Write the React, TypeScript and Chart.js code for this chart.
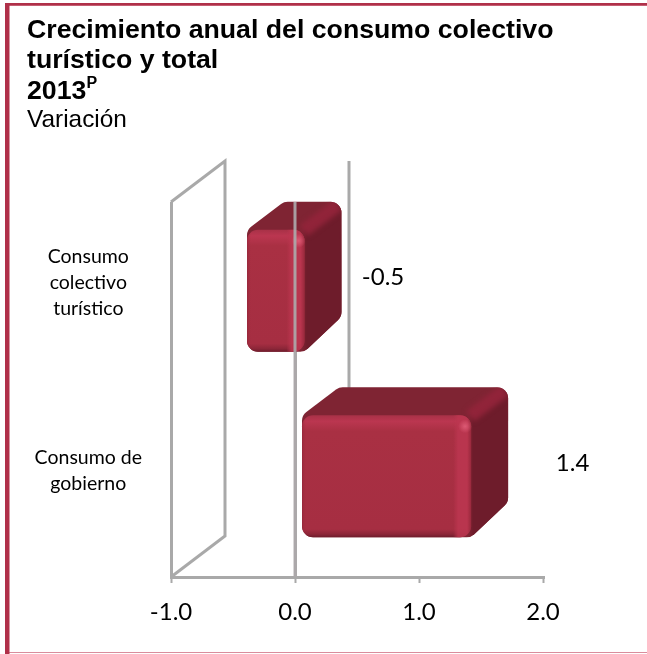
import { useEffect, useRef } from "react";
import { Chart, registerables } from "chart.js";

Chart.register(...registerables);

const categories = [["Consumo", "colectivo", "turístico"], ["Consumo de", "gobierno"]];
const values = [-0.5, 1.4];
const valueLabels = ["-0.5", "1.4"];
const xTicks = { min: -1, max: 2, step: 1 };

const titleLines = ["Crecimiento anual del consumo colectivo", "turístico y total"];
const titleYear = "2013";
const titleSup = "P";
const subtitle = "Variación";

const GRID = "#a9a9a9";
const LABEL_FONT = "Lato, Carlito, sans-serif";
const WALL = { dx: 54, dy: 41 };
const BOX = { dx: 37, dy: 28, dyBottom: 35, r: 11, trim: 3 };
const rowShift = [{ x: 14, y: -5 }, { x: 5.5, y: -7 }];
const labelAnchor = [{ x: 150, y: -18 }, { x: 104, y: -20 }];

function roundedPoly(ctx: CanvasRenderingContext2D, pts: number[][], r: number) {
  const n = pts.length;
  const a = pts[n - 1], b = pts[0];
  ctx.beginPath();
  ctx.moveTo((a[0] + b[0]) / 2, (a[1] + b[1]) / 2);
  for (let i = 0; i < n; i++) {
    const p = pts[i], q = pts[(i + 1) % n];
    ctx.arcTo(p[0], p[1], (p[0] + q[0]) / 2, (p[1] + q[1]) / 2, r);
  }
  ctx.closePath();
}

function drawBox(ctx: CanvasRenderingContext2D, l: number, r: number, t: number, b: number) {
  const { dx, dy, dyBottom, r: rad } = BOX;
  const outline = [[l, t], [l + dx, t - dy], [r + dx, t - dy], [r + dx, b - dyBottom], [r, b], [l, b]];
  ctx.save();
  (ctx as any).filter = "blur(0.6px)";
  roundedPoly(ctx, outline, rad);
  ctx.fillStyle = "#7f2433";
  ctx.fill();
  ctx.restore();

  ctx.save();
  roundedPoly(ctx, outline, rad);
  ctx.clip();
  (ctx as any).filter = "blur(1.5px)";
  // side face
  ctx.beginPath();
  ctx.moveTo(r, t);
  ctx.lineTo(r + dx, t - dy);
  ctx.lineTo(r + dx + 4, b);
  ctx.lineTo(r, b + 4);
  ctx.closePath();
  ctx.fillStyle = "#6e1c2b";
  ctx.fill();
  // bevel between top and side
  (ctx as any).filter = "blur(2.5px)";
  ctx.beginPath();
  ctx.moveTo(r - 1, t + 1);
  ctx.lineTo(r + dx - 3, t - dy + 3);
  ctx.strokeStyle = "rgba(146,36,58,0.95)";
  ctx.lineWidth = 13;
  ctx.stroke();
  ctx.restore();

  // front face
  ctx.save();
  (ctx as any).filter = "blur(0.7px)";
  const h = b - t;
  const v = ctx.createLinearGradient(0, t, 0, b);
  v.addColorStop(0, "#a83147");
  v.addColorStop(6 / h, "#bb3650");
  v.addColorStop(16 / h, "#a93043");
  v.addColorStop(1 - 8 / h, "#a62e42");
  v.addColorStop(1 - 3 / h, "#8c2638");
  v.addColorStop(1, "#6f1c2c");
  roundedPoly(ctx, [[l, t], [r, t], [r, b], [l, b]], rad);
  ctx.fillStyle = v;
  ctx.fill();
  const w = r - l;
  const g = ctx.createLinearGradient(l, 0, r, 0);
  g.addColorStop(0, "rgba(130,30,50,0.45)");
  g.addColorStop(4 / w, "rgba(170,48,67,0)");
  g.addColorStop(1 - 18 / w, "rgba(188,54,80,0)");
  g.addColorStop(1 - 13 / w, "rgba(188,54,80,0.85)");
  g.addColorStop(1 - 4 / w, "rgba(188,54,80,0.85)");
  g.addColorStop(1, "rgba(150,40,60,0.9)");
  roundedPoly(ctx, [[l, t], [r, t], [r, b], [l, b]], rad);
  ctx.fillStyle = g;
  ctx.fill();
  const sx = r - 6, sy = t + 11;
  const spot = ctx.createRadialGradient(sx, sy, 0, sx, sy, 7);
  spot.addColorStop(0, "rgba(222,92,118,0.95)");
  spot.addColorStop(1, "rgba(222,92,118,0)");
  ctx.fillStyle = spot;
  ctx.fillRect(sx - 8, sy - 8, 16, 16);
  ctx.restore();
}

const boxPlugin = {
  id: "box3d",
  beforeDraw(chart: any) {
    const { ctx, width, height } = chart;
    ctx.save();
    ctx.fillStyle = "#ffffff";
    ctx.fillRect(0, 0, width, height);
    ctx.fillStyle = "#d98d9c";
    ctx.fillRect(5, 5, width - 5, 1);
    ctx.fillRect(5, height - 2, width - 5, 1);
    ctx.fillStyle = "#b03049";
    ctx.fillRect(5, 3, width - 5, 2.5);
    ctx.fillRect(5, 3, 4.5, height - 3);
    ctx.restore();
  },
  beforeDatasetsDraw(chart: any) {
    const { ctx, chartArea, scales } = chart;
    ctx.save();
    ctx.strokeStyle = GRID;
    ctx.lineWidth = 3;
    const x0 = scales.x.getPixelForValue(xTicks.min);
    const xz = scales.x.getPixelForValue(0);
    ctx.beginPath();
    ctx.moveTo(x0, chartArea.bottom);
    ctx.lineTo(x0 + WALL.dx, chartArea.bottom - WALL.dy);
    ctx.lineTo(x0 + WALL.dx, chartArea.top - WALL.dy);
    ctx.lineTo(x0, chartArea.top);
    ctx.moveTo(xz + WALL.dx, chartArea.bottom - WALL.dy);
    ctx.lineTo(xz + WALL.dx, chartArea.top - WALL.dy);
    ctx.stroke();
    ctx.restore();
  },
  afterDatasetsDraw(chart: any) {
    const { ctx, chartArea, scales } = chart;
    const meta = chart.getDatasetMeta(0);
    meta.data.forEach((bar: any, i: number) => {
      const s = rowShift[i];
      const l = Math.min(bar.x, bar.base) + s.x;
      const r = Math.max(bar.x, bar.base) + s.x - BOX.trim;
      const t = bar.y - bar.height / 2 + s.y;
      const b = bar.y + bar.height / 2 + s.y;
      drawBox(ctx, l, r, t, b);
    });
    const xz = scales.x.getPixelForValue(0);
    ctx.save();
    ctx.strokeStyle = "rgba(172,168,170,0.92)";
    ctx.lineWidth = 3;
    ctx.beginPath();
    ctx.moveTo(xz, chartArea.top);
    ctx.lineTo(xz, chartArea.bottom);
    ctx.stroke();
    ctx.fillStyle = "#000000";
    ctx.font = `24px ${LABEL_FONT}`;
    ctx.textAlign = "center";
    ctx.textBaseline = "middle";
    meta.data.forEach((bar: any, i: number) => {
      const a = labelAnchor[i];
      ctx.fillText(valueLabels[i], bar.x + a.x, bar.y + a.y);
    });
    ctx.restore();
  },
};

export default function App() {
  const ref = useRef<HTMLCanvasElement>(null);
  useEffect(() => {
    if (!ref.current) return;
    const chart = new Chart(ref.current, {
      type: "bar",
      data: {
        labels: categories,
        datasets: [
          {
            data: values,
            backgroundColor: "rgba(169,48,67,0)",
            barPercentage: 0.65,
            categoryPercentage: 1,
          },
        ],
      },
      options: {
        indexAxis: "y",
        animation: false,
        responsive: false,
        layout: { padding: { top: 202, right: 104, left: 0, bottom: 0 } },
        plugins: { legend: { display: false }, title: { display: false }, tooltip: { enabled: false } },
        scales: {
          x: {
            type: "linear",
            min: xTicks.min,
            max: xTicks.max,
            afterFit: (s: any) => { s.height = 77; },
            grid: {
              color: (c: any) => (c.tick && c.tick.value <= 0 ? GRID : "rgba(0,0,0,0)"),
              tickColor: GRID,
              tickLength: 6,
              lineWidth: 3,
              tickWidth: 2,
            },
            border: { color: GRID, width: 3 },
            ticks: {
              stepSize: xTicks.step,
              color: "#000000",
              padding: 15,
              maxRotation: 0,
              font: { family: LABEL_FONT, size: 24 },
              callback: (v: any) => Number(v).toFixed(1),
            },
          },
          y: {
            type: "category",
            afterFit: (s: any) => { s.width = 171; },
            grid: { display: false },
            border: { display: false },
            ticks: {
              color: "#000000",
              crossAlign: "center",
              padding: 21,
              labelOffset: -13,
              font: { family: LABEL_FONT, size: 19.5, lineHeight: 26 / 19.5 },
            },
          },
        },
      },
      plugins: [boxPlugin],
    } as any);
    return () => chart.destroy();
  }, []);

  const bold: React.CSSProperties = {
    position: "absolute",
    left: 27,
    margin: 0,
    whiteSpace: "nowrap",
    fontFamily: "'Liberation Sans', Arial, sans-serif",
    fontWeight: 700,
    fontSize: 26.7,
    lineHeight: "30px",
    color: "#000",
  };
  return (
    <div style={{ position: "fixed", left: 0, top: 0, width: 647, height: 654, overflow: "hidden", background: "#fff" }}>
      <canvas ref={ref} width={647} height={654} style={{ display: "block" }} />
      <div style={{ ...bold, top: 14 }}>{titleLines[0]}</div>
      <div style={{ ...bold, top: 44 }}>{titleLines[1]}</div>
      <div style={{ ...bold, top: 75 }}>
        {titleYear}
        <sup style={{ fontSize: 16, lineHeight: 0, position: "relative", top: -1 }}>{titleSup}</sup>
      </div>
      <div style={{ ...bold, top: 104, fontWeight: 400, fontSize: 24.4 }}>{subtitle}</div>
    </div>
  );
}
